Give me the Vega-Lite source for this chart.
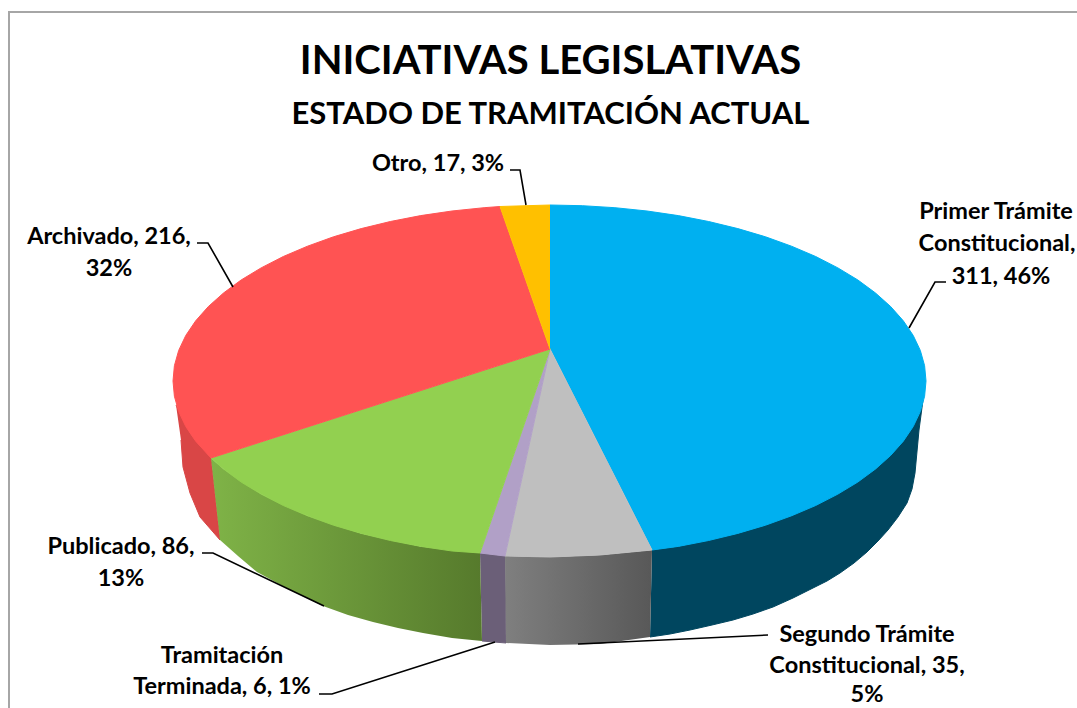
{"$schema":"https://vega.github.io/schema/vega-lite/v6.json","width":1077,"height":708,"autosize":{"type":"none"},"padding":0,"background":"white","view":{"stroke":null},
"title":{"text":"INICIATIVAS LEGISLATIVAS","subtitle":"ESTADO DE TRAMITACIÓN ACTUAL","anchor":"middle","frame":"group","dx":12,"dy":134,"font":"Lato","fontSize":40,"fontWeight":"bold","color":"#000000","subtitleFont":"Lato","subtitleFontSize":31,"subtitleFontWeight":"bold","subtitleColor":"#000000","subtitlePadding":18},
"datasets":{
"caras":[
{"pieza":"Primer Trámite lateral","i":1,"x":102,"y":-201},{"pieza":"Primer Trámite lateral","i":2,"x":128.3,"y":-197.4},{"pieza":"Primer Trámite lateral","i":3,"x":187.8,"y":-184.4},{"pieza":"Primer Trámite lateral","i":4,"x":241.5,"y":-166.8},{"pieza":"Primer Trámite lateral","i":5,"x":287.9,"y":-145.1},{"pieza":"Primer Trámite lateral","i":6,"x":325.5,"y":-120},{"pieza":"Primer Trámite lateral","i":7,"x":353.3,"y":-92.2},{"pieza":"Primer Trámite lateral","i":8,"x":373,"y":-51},{"pieza":"Primer Trámite lateral","i":9,"x":369,"y":-81},{"pieza":"Primer Trámite lateral","i":10,"x":365,"y":-124},{"pieza":"Primer Trámite lateral","i":11,"x":362,"y":-140},{"pieza":"Primer Trámite lateral","i":12,"x":357,"y":-154},{"pieza":"Primer Trámite lateral","i":13,"x":348,"y":-168},{"pieza":"Primer Trámite lateral","i":14,"x":338,"y":-181},{"pieza":"Primer Trámite lateral","i":15,"x":328,"y":-192},{"pieza":"Primer Trámite lateral","i":16,"x":317,"y":-203},{"pieza":"Primer Trámite lateral","i":17,"x":304,"y":-214},{"pieza":"Primer Trámite lateral","i":18,"x":290,"y":-224},{"pieza":"Primer Trámite lateral","i":19,"x":277,"y":-232},{"pieza":"Primer Trámite lateral","i":20,"x":263,"y":-239},{"pieza":"Primer Trámite lateral","i":21,"x":243,"y":-249},{"pieza":"Primer Trámite lateral","i":22,"x":223,"y":-258},{"pieza":"Primer Trámite lateral","i":23,"x":203,"y":-265},{"pieza":"Primer Trámite lateral","i":24,"x":183,"y":-271},{"pieza":"Primer Trámite lateral","i":25,"x":162,"y":-276},{"pieza":"Primer Trámite lateral","i":26,"x":140,"y":-281},{"pieza":"Primer Trámite lateral","i":27,"x":120,"y":-285},{"pieza":"Primer Trámite lateral","i":28,"x":100,"y":-288},
{"pieza":"Tramitación lateral","i":1,"x":-70,"y":-204},{"pieza":"Tramitación lateral","i":2,"x":-45,"y":-207},{"pieza":"Tramitación lateral","i":3,"x":-44,"y":-294},{"pieza":"Tramitación lateral","i":4,"x":-68,"y":-292},
{"pieza":"Archivado lateral","i":1,"x":-374,"y":-56},{"pieza":"Archivado lateral","i":2,"x":-360,"y":-84},{"pieza":"Archivado lateral","i":3,"x":-339,"y":-109},{"pieza":"Archivado lateral","i":4,"x":-330,"y":-191},{"pieza":"Archivado lateral","i":5,"x":-350,"y":-168},{"pieza":"Archivado lateral","i":6,"x":-360,"y":-144},{"pieza":"Archivado lateral","i":7,"x":-367,"y":-118},{"pieza":"Archivado lateral","i":8,"x":-369,"y":-91}
],
"verdeLado":[{"i":1,"x":-339,"y":-109},{"i":2,"x":-326.5,"y":-120},{"i":3,"x":-288.9,"y":-145.1},{"i":4,"x":-242.5,"y":-166.8},{"i":5,"x":-188.8,"y":-184.4},{"i":6,"x":-129.3,"y":-197.4},{"i":7,"x":-70,"y":-204},{"i":8,"x":-68,"y":-292},{"i":9,"x":-98,"y":-289},{"i":10,"x":-127,"y":-284},{"i":11,"x":-152,"y":-279},{"i":12,"x":-177,"y":-273},{"i":13,"x":-202,"y":-266},{"i":14,"x":-227,"y":-257},{"i":15,"x":-260,"y":-241},{"i":16,"x":-293,"y":-223},{"i":17,"x":-312,"y":-207},{"i":18,"x":-330,"y":-191}],
"grisLado":[{"i":1,"x":-45,"y":-207},{"i":2,"x":0,"y":-208},{"i":3,"x":50,"y":-206},{"i":4,"x":102,"y":-201},{"i":5,"x":100,"y":-288},{"i":6,"x":50,"y":-295},{"i":7,"x":0,"y":-296},{"i":8,"x":-44,"y":-294}],
"tapa":[
{"pieza":"Primer Trámite Constitucional","i":0,"x":0,"y":0},{"pieza":"Primer Trámite Constitucional","i":1,"x":0,"y":144},{"pieza":"Primer Trámite Constitucional","i":2,"x":32.3,"y":143.3},{"pieza":"Primer Trámite Constitucional","i":3,"x":64.9,"y":141.3},{"pieza":"Primer Trámite Constitucional","i":4,"x":97,"y":138},{"pieza":"Primer Trámite Constitucional","i":5,"x":128.3,"y":133.4},{"pieza":"Primer Trámite Constitucional","i":6,"x":158.6,"y":127.5},{"pieza":"Primer Trámite Constitucional","i":7,"x":187.8,"y":120.4},{"pieza":"Primer Trámite Constitucional","i":8,"x":215.5,"y":112.2},{"pieza":"Primer Trámite Constitucional","i":9,"x":241.5,"y":102.8},{"pieza":"Primer Trámite Constitucional","i":10,"x":265.7,"y":92.5},{"pieza":"Primer Trámite Constitucional","i":11,"x":287.9,"y":81.1},{"pieza":"Primer Trámite Constitucional","i":12,"x":307.9,"y":69},{"pieza":"Primer Trámite Constitucional","i":13,"x":325.5,"y":56},{"pieza":"Primer Trámite Constitucional","i":14,"x":340.7,"y":42.4},{"pieza":"Primer Trámite Constitucional","i":15,"x":353.3,"y":28.2},{"pieza":"Primer Trámite Constitucional","i":16,"x":363.2,"y":13.6},{"pieza":"Primer Trámite Constitucional","i":17,"x":370.3,"y":-1.4},{"pieza":"Primer Trámite Constitucional","i":18,"x":374.6,"y":-16.7},{"pieza":"Primer Trámite Constitucional","i":19,"x":376,"y":-32},{"pieza":"Primer Trámite Constitucional","i":20,"x":374.6,"y":-47.3},{"pieza":"Primer Trámite Constitucional","i":21,"x":370.3,"y":-62.6},{"pieza":"Primer Trámite Constitucional","i":22,"x":363.2,"y":-77.6},{"pieza":"Primer Trámite Constitucional","i":23,"x":353.3,"y":-92.2},{"pieza":"Primer Trámite Constitucional","i":24,"x":340.7,"y":-106.4},{"pieza":"Primer Trámite Constitucional","i":25,"x":325.5,"y":-120},{"pieza":"Primer Trámite Constitucional","i":26,"x":307.9,"y":-133},{"pieza":"Primer Trámite Constitucional","i":27,"x":287.9,"y":-145.1},{"pieza":"Primer Trámite Constitucional","i":28,"x":265.7,"y":-156.5},{"pieza":"Primer Trámite Constitucional","i":29,"x":241.5,"y":-166.8},{"pieza":"Primer Trámite Constitucional","i":30,"x":215.5,"y":-176.2},{"pieza":"Primer Trámite Constitucional","i":31,"x":187.8,"y":-184.4},{"pieza":"Primer Trámite Constitucional","i":32,"x":158.6,"y":-191.5},{"pieza":"Primer Trámite Constitucional","i":33,"x":128.3,"y":-197.4},{"pieza":"Primer Trámite Constitucional","i":34,"x":102,"y":-201},
{"pieza":"Segundo Trámite Constitucional","i":0,"x":0,"y":0},{"pieza":"Segundo Trámite Constitucional","i":1,"x":102,"y":-201},{"pieza":"Segundo Trámite Constitucional","i":2,"x":50,"y":-206},{"pieza":"Segundo Trámite Constitucional","i":3,"x":0,"y":-208},{"pieza":"Segundo Trámite Constitucional","i":4,"x":-45,"y":-207},
{"pieza":"Tramitación Terminada","i":0,"x":0,"y":0},{"pieza":"Tramitación Terminada","i":1,"x":-45,"y":-207},{"pieza":"Tramitación Terminada","i":2,"x":-70,"y":-204},
{"pieza":"Publicado","i":0,"x":0,"y":0},{"pieza":"Publicado","i":1,"x":-70,"y":-204},{"pieza":"Publicado","i":2,"x":-97.9,"y":-202},{"pieza":"Publicado","i":3,"x":-129.3,"y":-197.4},{"pieza":"Publicado","i":4,"x":-159.6,"y":-191.5},{"pieza":"Publicado","i":5,"x":-188.8,"y":-184.4},{"pieza":"Publicado","i":6,"x":-216.5,"y":-176.2},{"pieza":"Publicado","i":7,"x":-242.5,"y":-166.8},{"pieza":"Publicado","i":8,"x":-266.7,"y":-156.5},{"pieza":"Publicado","i":9,"x":-288.9,"y":-145.1},{"pieza":"Publicado","i":10,"x":-308.9,"y":-133},{"pieza":"Publicado","i":11,"x":-326.5,"y":-120},{"pieza":"Publicado","i":12,"x":-339,"y":-109},
{"pieza":"Archivado","i":0,"x":0,"y":0},{"pieza":"Archivado","i":1,"x":-339,"y":-109},{"pieza":"Archivado","i":2,"x":-354.3,"y":-92.2},{"pieza":"Archivado","i":3,"x":-364.2,"y":-77.6},{"pieza":"Archivado","i":4,"x":-371.3,"y":-62.6},{"pieza":"Archivado","i":5,"x":-375.6,"y":-47.3},{"pieza":"Archivado","i":6,"x":-377,"y":-32},{"pieza":"Archivado","i":7,"x":-375.6,"y":-16.7},{"pieza":"Archivado","i":8,"x":-371.3,"y":-1.4},{"pieza":"Archivado","i":9,"x":-364.2,"y":13.6},{"pieza":"Archivado","i":10,"x":-354.3,"y":28.2},{"pieza":"Archivado","i":11,"x":-341.7,"y":42.4},{"pieza":"Archivado","i":12,"x":-326.5,"y":56},{"pieza":"Archivado","i":13,"x":-308.9,"y":69},{"pieza":"Archivado","i":14,"x":-288.9,"y":81.1},{"pieza":"Archivado","i":15,"x":-266.7,"y":92.5},{"pieza":"Archivado","i":16,"x":-242.5,"y":102.8},{"pieza":"Archivado","i":17,"x":-216.5,"y":112.2},{"pieza":"Archivado","i":18,"x":-188.8,"y":120.4},{"pieza":"Archivado","i":19,"x":-159.6,"y":127.5},{"pieza":"Archivado","i":20,"x":-129.3,"y":133.4},{"pieza":"Archivado","i":21,"x":-98,"y":138},{"pieza":"Archivado","i":22,"x":-65.9,"y":141.3},{"pieza":"Archivado","i":23,"x":-50,"y":142.5},
{"pieza":"Otro","i":0,"x":0,"y":0},{"pieza":"Otro","i":1,"x":-50,"y":142.5},{"pieza":"Otro","i":2,"x":0,"y":144}
],
"guias":[
{"g":"Borde","i":1,"x":-541,"y":-359},{"g":"Borde","i":2,"x":-541,"y":337},{"g":"Borde","i":3,"x":527,"y":337}
],
"lideres":[
{"g":"Otro","i":1,"x":-40,"y":179},{"g":"Otro","i":2,"x":-30,"y":179},{"g":"Otro","i":3,"x":-24,"y":144},
{"g":"Primer","i":1,"x":396,"y":67},{"g":"Primer","i":2,"x":385,"y":67},{"g":"Primer","i":3,"x":359,"y":21},
{"g":"Archivado","i":1,"x":-353,"y":106},{"g":"Archivado","i":2,"x":-342,"y":106},{"g":"Archivado","i":3,"x":-317,"y":62},
{"g":"Publicado","i":1,"x":-348,"y":-204},{"g":"Publicado","i":2,"x":-337,"y":-204},{"g":"Publicado","i":3,"x":-226,"y":-257},
{"g":"Tramitacion","i":1,"x":-231,"y":-345},{"g":"Tramitacion","i":2,"x":-218,"y":-345},{"g":"Tramitacion","i":3,"x":-55,"y":-293},
{"g":"Segundo","i":1,"x":28,"y":-295},{"g":"Segundo","i":2,"x":218,"y":-286}
],
"etiquetas":[
{"t":"Otro, 17, 3%","x":-112,"y":185},
{"t":"Primer Trámite","x":446,"y":137},{"t":"Constitucional,","x":447,"y":105},{"t":"311, 46%","x":451,"y":72},
{"t":"Archivado, 216,","x":-441,"y":112},{"t":"32%","x":-441,"y":80},
{"t":"Publicado, 86,","x":-429,"y":-198},{"t":"13%","x":-429,"y":-230},
{"t":"Tramitación","x":-328,"y":-307},{"t":"Terminada, 6, 1%","x":-328,"y":-338},
{"t":"Segundo Trámite","x":317,"y":-286},{"t":"Constitucional, 35,","x":317,"y":-317},{"t":"5%","x":317,"y":-346}
]},
"encoding":{
"x":{"field":"x","type":"quantitative","axis":null,"scale":{"domain":[-550,527],"nice":false,"zero":false}},
"y":{"field":"y","type":"quantitative","axis":null,"scale":{"domain":[-359,349],"nice":false,"zero":false}}},
"layer":[
{"data":{"name":"guias"},"mark":{"type":"line","stroke":"#a6a6a6","strokeWidth":2},"encoding":{"order":{"field":"i"},"detail":{"field":"g"}}},
{"data":{"name":"caras"},"mark":{"type":"line","strokeWidth":1,"strokeJoin":"round"},"encoding":{"order":{"field":"i"},
"fill":{"field":"pieza","type":"nominal","legend":null,"scale":{"domain":["Primer Trámite lateral","Tramitación lateral","Archivado lateral","Primer Trámite Constitucional","Segundo Trámite Constitucional","Tramitación Terminada","Publicado","Archivado","Otro"],"range":["#00465f","#6b5f78","#d94646","#00b0f0","#bfbfbf","#b1a0c7","#92d050","#ff5353","#ffc000"]}},
"stroke":{"field":"pieza","type":"nominal","legend":null,"scale":{"domain":["Primer Trámite lateral","Tramitación lateral","Archivado lateral","Primer Trámite Constitucional","Segundo Trámite Constitucional","Tramitación Terminada","Publicado","Archivado","Otro"],"range":["#00465f","#6b5f78","#d94646","#00b0f0","#bfbfbf","#b1a0c7","#92d050","#ff5353","#ffc000"]}}}},
{"data":{"name":"verdeLado"},"mark":{"type":"line","strokeWidth":0,"fill":{"gradient":"linear","x1":0,"y1":0,"x2":1,"y2":0,"stops":[{"offset":0,"color":"#7fb347"},{"offset":1,"color":"#567a2c"}]}},"encoding":{"order":{"field":"i"}}},
{"data":{"name":"grisLado"},"mark":{"type":"line","strokeWidth":0,"fill":{"gradient":"linear","x1":0,"y1":0,"x2":1,"y2":0,"stops":[{"offset":0,"color":"#7f7f7f"},{"offset":1,"color":"#585858"}]}},"encoding":{"order":{"field":"i"}}},
{"data":{"name":"tapa"},"mark":{"type":"line","strokeWidth":1,"strokeJoin":"round"},"encoding":{"order":{"field":"i"},
"fill":{"field":"pieza","type":"nominal","legend":null,"scale":{"domain":["Primer Trámite lateral","Tramitación lateral","Archivado lateral","Primer Trámite Constitucional","Segundo Trámite Constitucional","Tramitación Terminada","Publicado","Archivado","Otro"],"range":["#00465f","#6b5f78","#d94646","#00b0f0","#bfbfbf","#b1a0c7","#92d050","#ff5353","#ffc000"]}},
"stroke":{"field":"pieza","type":"nominal","legend":null,"scale":{"domain":["Primer Trámite lateral","Tramitación lateral","Archivado lateral","Primer Trámite Constitucional","Segundo Trámite Constitucional","Tramitación Terminada","Publicado","Archivado","Otro"],"range":["#00465f","#6b5f78","#d94646","#00b0f0","#bfbfbf","#b1a0c7","#92d050","#ff5353","#ffc000"]}}}},
{"data":{"name":"lideres"},"mark":{"type":"line","stroke":"#000000","strokeWidth":1.6},"encoding":{"order":{"field":"i"},"detail":{"field":"g"}}},
{"data":{"name":"etiquetas"},"mark":{"type":"text","font":"Lato","fontSize":23.5,"fontWeight":"bold","color":"#000000","align":"center","baseline":"middle"},"encoding":{"text":{"field":"t"}}}
]}
